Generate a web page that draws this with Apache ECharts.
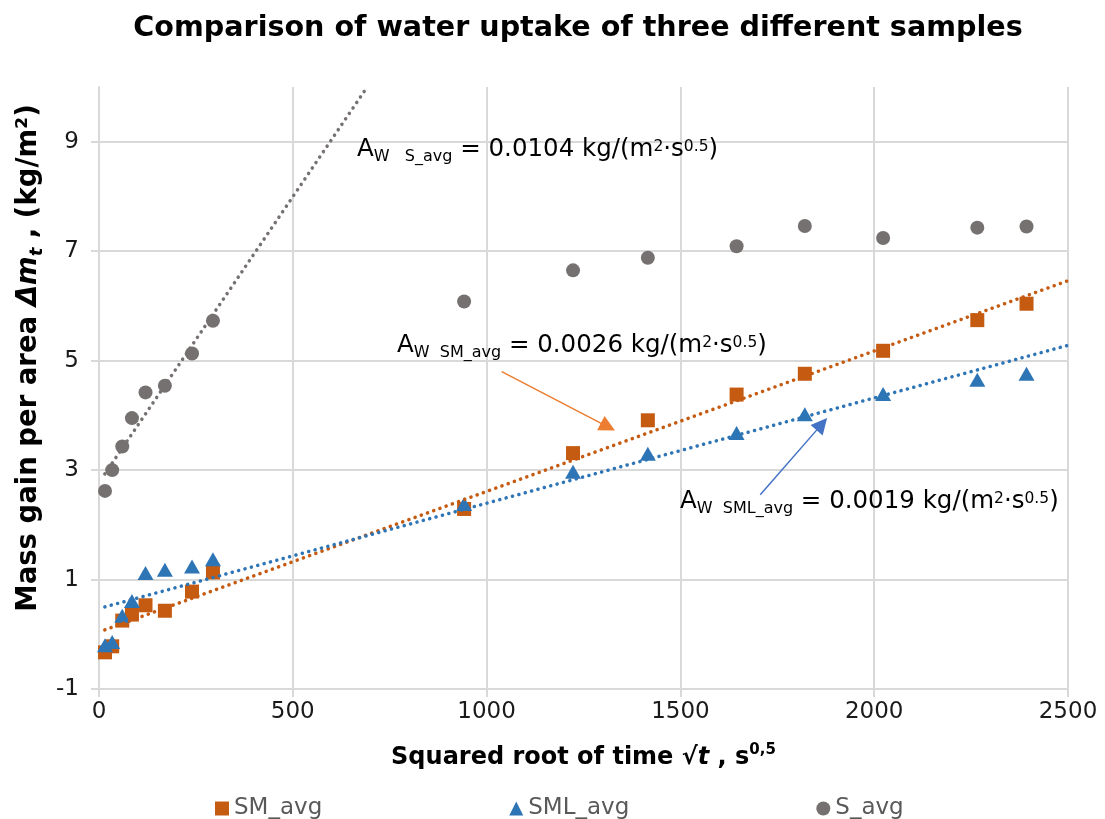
<!DOCTYPE html>
<html>
<head>
<meta charset="utf-8">
<script src="https://cdn.jsdelivr.net/npm/echarts@6/dist/echarts.min.js"></script>
<style>html,body{margin:0;padding:0;background:#fff}#c{width:1105px;height:819px}</style>
</head>
<body>
<div id="c"></div>
<script>
// ---- data ----
const xValues = [15.5, 34, 60, 85, 120, 170, 240, 294, 942, 1223, 1416, 1645, 1821, 2023, 2266, 2393];
const smAvg  = [-0.33, -0.22, 0.25, 0.36, 0.53, 0.43, 0.78, 1.13, 2.29, 3.31, 3.91, 4.38, 4.76, 5.18, 5.74, 6.04];
const smlAvg = [-0.20, -0.14, 0.34, 0.61, 1.12, 1.18, 1.24, 1.37, 2.38, 2.97, 3.30, 3.68, 4.02, 4.39, 4.65, 4.76];
const sAvg   = [2.62, 3.00, 3.43, 3.95, 4.42, 4.54, 5.13, 5.73, 6.08, 6.65, 6.88, 7.09, 7.46, 7.24, 7.43, 7.45];
const smTrend  = [[15, 0.08], [2500, 6.46]];
const smlTrend = [[15, 0.50], [2500, 5.28]];
const sTrend   = [[15, 2.93], [692, 10]];
const smArrow  = [[1039, 4.80], [1313, 3.79]];
const smlArrow = [[1706, 2.55], [1865, 3.84]];
const xTicks = [0, 500, 1000, 1500, 2000, 2500];
const yTicks = [-1, 1, 3, 5, 7, 9];
const yMax = 10;
const seriesNames = ['SM_avg', 'SML_avg', 'S_avg'];
const coefS = '0.0104', coefSM = '0.0026', coefSML = '0.0019';

const FONT = 'DejaVu Sans';
const C_SM = '#C55A11', C_SML = '#2E75B6', C_S = '#767171';
const GRID = '#d9d9d9';

const zip = ys => xValues.map((x, i) => [x, ys[i]]);

const annRich = {
  m:   {fontFamily: FONT, fontSize: 24.5, lineHeight: 30, color: '#000'},
  sub: {fontFamily: FONT, fontSize: 16, lineHeight: 16, verticalAlign: 'bottom', color: '#000'},
  sup: {fontFamily: FONT, fontSize: 15.5, verticalAlign: 'middle', padding: [0, 0, 6, 0], color: '#000'}
};
function annText(subLabel, coef) {
  return '{m|A}{sub|' + subLabel + '}{m| = ' + coef + ' kg/(m}{sup|2}{m|·s}{sup|0.5}{m|)}';
}

const chart = echarts.init(document.getElementById('c'), null, {renderer: 'canvas'});
const option = {
  animation: false,
  backgroundColor: '#fff',
  textStyle: {fontFamily: FONT},
  grid: {left: 99, top: 87, width: 969, height: 602},
  legend: {
    top: 797, left: 215, padding: 0, itemGap: 187, itemWidth: 14, itemHeight: 14,
    textStyle: {fontFamily: FONT, fontSize: 23, color: '#595959'},
    data: [
      {name: seriesNames[0], icon: 'rect'},
      {name: seriesNames[1], icon: 'triangle'},
      {name: seriesNames[2], icon: 'circle'}
    ]
  },
  xAxis: {
    type: 'value', min: xTicks[0], max: xTicks[xTicks.length - 1], interval: xTicks[1] - xTicks[0],
    name: '{b|Squared root of time }{bi|√t}{b| , s}{bs|0,5}',
    nameLocation: 'middle', nameGap: 54,
    nameTextStyle: {
      rich: {
        b:  {fontFamily: FONT, fontSize: 24, fontWeight: 'bold', color: '#000', lineHeight: 30},
        bi: {fontFamily: FONT, fontSize: 24, fontWeight: 'bold', fontStyle: 'italic', color: '#000', lineHeight: 30},
        bs: {fontFamily: FONT, fontSize: 15, fontWeight: 'bold', color: '#000', lineHeight: 26, verticalAlign: 'top'}
      }
    },
    axisLine: {show: true, onZero: false, lineStyle: {color: GRID, width: 2}},
    axisTick: {show: true, length: 8, lineStyle: {color: GRID, width: 2}},
    axisLabel: {fontFamily: FONT, fontSize: 23, color: '#1a1a1a', margin: 12, formatter: v => String(v)},
    splitLine: {show: true, lineStyle: {color: GRID, width: 2}}
  },
  yAxis: {
    type: 'value', min: yTicks[0], max: yMax, interval: yTicks[1] - yTicks[0],
    axisLine: {show: true, lineStyle: {color: GRID, width: 2}},
    axisTick: {show: true, length: 8, lineStyle: {color: GRID, width: 2}},
    axisLabel: {fontFamily: FONT, fontSize: 23, color: '#1a1a1a', margin: 20, showMaxLabel: false, formatter: v => String(v)},
    splitLine: {show: true, showMaxLine: false, lineStyle: {color: GRID, width: 2}}
  },
  series: [
    {name: seriesNames[0], type: 'scatter', symbol: 'rect', symbolSize: 14, itemStyle: {color: C_SM, opacity: 1}, data: zip(smAvg), z: 2},
    {name: seriesNames[1], type: 'scatter', symbol: 'triangle', symbolSize: [16, 14], itemStyle: {color: C_SML, opacity: 1}, data: zip(smlAvg), z: 3},
    {name: seriesNames[2], type: 'scatter', symbol: 'circle', symbolSize: 14, itemStyle: {color: C_S, opacity: 1}, data: zip(sAvg), z: 2},
    {type: 'line', name: 'smTrend', data: smTrend, showSymbol: false, silent: true, z: 4,
     lineStyle: {color: C_SM, width: 3.5, type: [0.1, 6.5], cap: 'round'},
     markLine: {silent: true, symbol: ['none', 'triangle'], symbolSize: [16, 16], label: {show: false},
                lineStyle: {color: '#ED7D31', width: 1.5, type: 'solid'},
                data: [[{coord: smArrow[0]}, {coord: smArrow[1]}]]}},
    {type: 'line', name: 'smlTrend', data: smlTrend, showSymbol: false, silent: true, z: 4,
     lineStyle: {color: C_SML, width: 3.5, type: [0.1, 6.5], cap: 'round'},
     markLine: {silent: true, symbol: ['none', 'triangle'], symbolSize: [16, 16], label: {show: false},
                lineStyle: {color: '#4472C4', width: 1.5, type: 'solid'},
                data: [[{coord: smlArrow[0]}, {coord: smlArrow[1]}]]}},
    {type: 'line', name: 'sTrend', data: sTrend, showSymbol: false, silent: true, z: 4, clip: true,
     lineStyle: {color: C_S, width: 3.5, type: [0.1, 6.5], cap: 'round'}}
  ],
  graphic: [
    {type: 'text', x: 578, y: 14, z: 100, style: {
      text: 'Comparison of water uptake of three different samples',
      fontFamily: FONT, fontSize: 28.6, fontWeight: 'bold', fill: '#000', align: 'center', verticalAlign: 'top'}},
    {type: 'text', x: 29, y: 358, rotation: Math.PI / 2, z: 100, style: {
      text: '{b|Mass gain per area }{bi|Δm}{bis|t}{b| , (kg/m²)}', align: 'center', verticalAlign: 'middle',
      rich: {
        b:   {fontFamily: FONT, fontSize: 27.5, fontWeight: 'bold', fill: '#000', lineHeight: 34},
        bi:  {fontFamily: FONT, fontSize: 27.5, fontWeight: 'bold', fontStyle: 'italic', fill: '#000', lineHeight: 34},
        bis: {fontFamily: FONT, fontSize: 18, fontWeight: 'bold', fontStyle: 'italic', fill: '#000', lineHeight: 18, verticalAlign: 'bottom'}
      }}},
    {type: 'text', x: 357, y: 135, z: 100, style: {text: annText('W   S_avg', coefS), rich: annRich, verticalAlign: 'top'}},
    {type: 'text', x: 397, y: 331, z: 100, style: {text: annText('W  SM_avg', coefSM), rich: annRich, verticalAlign: 'top'}},
    {type: 'text', x: 680, y: 487, z: 100, style: {text: annText('W  SML_avg', coefSML), rich: annRich, verticalAlign: 'top'}}
  ]
};
chart.setOption(option);
</script>
</body>
</html>
